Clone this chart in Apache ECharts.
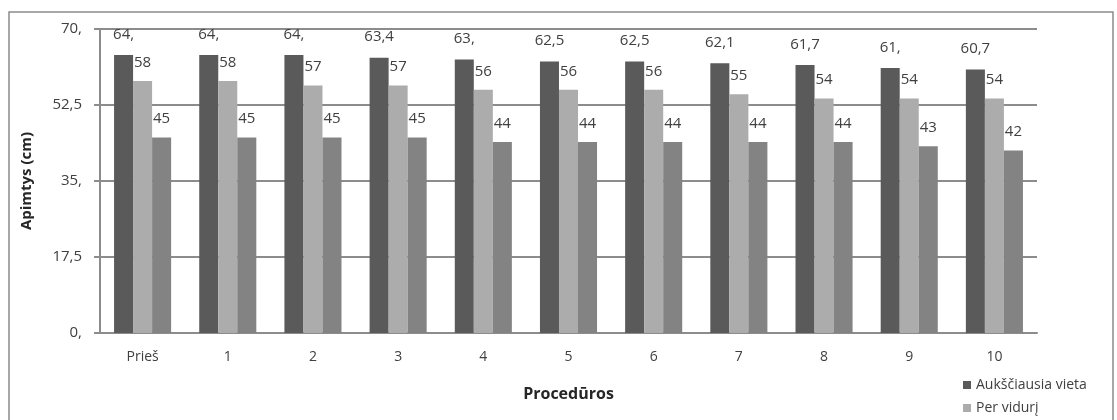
<!DOCTYPE html>
<html><head><meta charset="utf-8">
<script src="https://cdn.jsdelivr.net/npm/echarts@6/dist/echarts.min.js"></script>
<style>html,body{margin:0;padding:0;background:#fff}#c{width:1117px;height:420px}</style>
</head><body><div id="c"></div>
<script>
const categories = ['Prieš','1','2','3','4','5','6','7','8','9','10'];
const seriesNames = ['Aukščiausia vieta','Per vidurį','Per juosmenį'];
const highestValues = [64, 64, 64, 63.4, 63, 62.5, 62.5, 62.1, 61.7, 61, 60.7];
const middleValues = [58, 58, 57, 57, 56, 56, 56, 55, 54, 54, 54];
const lowerValues = [45, 45, 45, 45, 44, 44, 44, 44, 44, 43, 42];
const yTicks = [0, 17.5, 35, 52.5, 70];

function lt(v){ const s = String(v).replace('.', ','); return Number.isInteger(v) ? s + ',' : s; }
function ltPlain(v){ return String(v).replace('.', ','); }

const chart = echarts.init(document.getElementById('c'));
const font = "'Open Sans', 'DejaVu Sans', sans-serif";
const lbl = (fmt, dist) => ({show:true, position:'top', distance:dist, color:'#404040', fontSize:15, fontFamily:font, formatter:p=>fmt(p.value)});
const legendBase = {orient:'vertical', left:958, itemWidth:8, itemHeight:8, icon:'rect',
    textStyle:{fontSize:14, color:'#404040', fontFamily:font}};
chart.setOption({
  animation:false,
  textStyle:{fontFamily:font},
  graphic:[{type:'rect', shape:{x:9, y:12, width:1104, height:420}, style:{fill:'none', stroke:'#8c8c8c', lineWidth:1.5}, silent:true}],
  grid:{left:100, right:80, top:29, bottom:87},
  legend:[
    Object.assign({}, legendBase, {top:373, data:[seriesNames[0]]}),
    Object.assign({}, legendBase, {top:396, data:[seriesNames[1]]})
  ],
  xAxis:{type:'category', data:categories,
    axisLine:{lineStyle:{color:'#8c8c8c', width:2}}, axisTick:{show:false},
    axisLabel:{color:'#404040', fontSize:14, margin:17},
    name:'Procedūros', nameLocation:'middle', nameGap:53,
    nameTextStyle:{fontWeight:'bold', fontSize:16, color:'#262626'}},
  yAxis:{type:'value', min:yTicks[0], max:yTicks[yTicks.length-1], interval:yTicks[1]-yTicks[0],
    axisLine:{show:true, lineStyle:{color:'#8c8c8c', width:2}},
    axisTick:{show:true, length:6, lineStyle:{color:'#8c8c8c', width:2}},
    splitLine:{lineStyle:{color:'#8c8c8c', width:2}},
    axisLabel:{color:'#404040', fontSize:15, margin:18, formatter:v=>lt(v)},
    name:'Apimtys (cm)', nameLocation:'middle', nameGap:66, nameRotate:90,
    nameTextStyle:{fontWeight:'bold', fontSize:15, color:'#262626'}},
  series:[
    {name:seriesNames[0], type:'bar', data:highestValues, barGap:'0%', barCategoryGap:'33%', itemStyle:{color:'#5a5a5a'}, label:lbl(lt,13)},
    {name:seriesNames[1], type:'bar', data:middleValues, barGap:'0%', barCategoryGap:'33%', itemStyle:{color:'#acacac'}, label:lbl(ltPlain,11)},
    {name:seriesNames[2], type:'bar', data:lowerValues, barGap:'0%', barCategoryGap:'33%', itemStyle:{color:'#838383'}, label:lbl(ltPlain,11)}
  ]
});
</script></body></html>
